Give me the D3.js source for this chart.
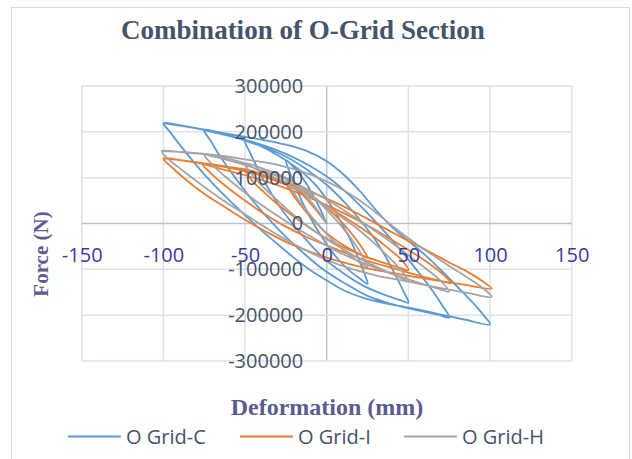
<!DOCTYPE html>
<html>
<head>
<meta charset="utf-8">
<script src="https://cdn.jsdelivr.net/npm/d3@7"></script>
<style>
  html, body { margin: 0; padding: 0; background: #fff; }
</style>
</head>
<body>
<div id="chart"></div>
<script>
// ---------- data (deformation mm, force N) ----------
const seriesNames = ["O Grid-C", "O Grid-I", "O Grid-H"];
const seriesColors = ["#5b9bd5", "#ed7d31", "#a5a5a5"];
const xTicks = [-150, -100, -50, 0, 50, 100, 150];
const yTicks = [-300000, -200000, -100000, 0, 100000, 200000, 300000];

// O Grid-C : cycles at 25, 50, 75, 100 mm
const gridC = [
  [0, 0], [-8, 60000], [-16, 105000],
  [-25, 138000], [-23, 115000], [-19, 80000], [-14, 40000], [-8, 0], [-1, -40000], [7, -78000], [15, -106000], [21, -122000],
  [25, -132000], [23, -108000], [19, -72000], [14, -32000], [8, 8000], [1, 48000], [-7, 85000], [-15, 112000], [-21, 128000],
  [-25, 138000], [-33, 155000], [-41, 170000],
  [-50, 181000], [-47, 155000], [-42, 118000], [-36, 78000], [-29, 38000], [-21, 0], [-12, -38000], [-2, -75000], [10, -108000], [22, -135000], [35, -155000], [45, -167000],
  [50, -173000], [47, -148000], [42, -112000], [36, -72000], [29, -32000], [21, 5000], [12, 42000], [2, 78000], [-10, 112000], [-22, 140000], [-35, 162000], [-45, 175000],
  [-50, 181000], [-58, 190000], [-66, 198000],
  [-75, 204000], [-71, 180000], [-65, 145000], [-57, 105000], [-48, 62000], [-38, 20000], [-27, -22000], [-15, -62000], [-3, -98000], [10, -128000], [25, -158000], [40, -176000], [55, -189000], [68, -199000],
  [75, -205000], [71, -180000], [65, -148000], [57, -110000], [48, -70000], [38, -28000], [27, 15000], [15, 58000], [3, 95000], [-10, 125000], [-25, 152000], [-40, 172000], [-55, 187000], [-68, 198000],
  [-75, 204000], [-83, 210000], [-91, 215000],
  [-100, 219000], [-96, 200000], [-90, 172000], [-80, 128000], [-70, 88000], [-60, 52000], [-50, 18000], [-40, -15000], [-30, -45000], [-20, -75000], [-10, -102000], [0, -124000], [10, -145000], [25, -165000], [40, -177000], [55, -187000], [70, -199000], [85, -210000],
  [100, -220000], [96, -200000], [90, -175000], [80, -138000], [70, -102000], [60, -68000], [50, -38000], [40, -8000], [30, 30000], [20, 72000], [10, 108000], [0, 136000], [-12, 158000], [-25, 172000], [-40, 183000], [-55, 192000], [-70, 202000], [-85, 211000],
  [-100, 219000]
];

// O Grid-I
const gridI = [
  [0, 0], [-9, 40000], [-17, 70000],
  [-25, 90000], [-22, 70000], [-17, 45000], [-10, 15000], [-2, -15000], [7, -40000], [15, -57000], [21, -68000],
  [25, -75000], [22, -55000], [17, -30000], [10, 0], [2, 28000], [-7, 55000], [-15, 72000], [-21, 83000],
  [-25, 90000], [-37, 104000],
  [-50, 118000], [-46, 95000], [-39, 70000], [-30, 42000], [-19, 12000], [-6, -20000], [8, -48000], [22, -70000], [35, -86000], [45, -97000],
  [50, -102000], [46, -80000], [39, -58000], [30, -32000], [19, -5000], [6, 25000], [-8, 55000], [-22, 80000], [-35, 98000], [-45, 111000],
  [-50, 118000], [-63, 125000],
  [-76, 130000], [-71, 110000], [-63, 85000], [-52, 55000], [-40, 25000], [-27, -3000], [-12, -30000], [5, -55000], [22, -78000], [40, -97000], [57, -114000], [70, -125000],
  [76, -130000], [71, -110000], [63, -88000], [52, -62000], [40, -36000], [27, -8000], [12, 20000], [-5, 48000], [-22, 73000], [-40, 95000], [-57, 112000], [-70, 124000],
  [-76, 130000], [-88, 137000],
  [-100, 142000], [-94, 120000], [-86, 95000], [-75, 65000], [-62, 35000], [-50, 8000], [-37, -18000], [-25, -40000], [-10, -62000], [5, -80000], [25, -98000], [45, -111000], [65, -123000], [85, -134000],
  [101, -142000], [95, -125000], [86, -105000], [75, -85000], [62, -60000], [50, -38000], [38, -15000], [25, 10000], [10, 38000], [-5, 62000], [-21, 85000], [-38, 103000], [-55, 118000], [-72, 129000], [-87, 137000],
  [-100, 142000]
];

// O Grid-H
const gridH = [
  [0, 0], [-9, 45000], [-17, 78000],
  [-25, 100000], [-22, 78000], [-17, 50000], [-10, 18000], [-2, -15000], [7, -48000], [15, -72000], [21, -87000],
  [25, -95000], [22, -72000], [17, -43000], [10, -10000], [2, 22000], [-7, 55000], [-15, 78000], [-21, 92000],
  [-25, 100000], [-37, 117000],
  [-50, 131000], [-46, 108000], [-39, 80000], [-30, 50000], [-19, 15000], [-6, -20000], [8, -52000], [22, -80000], [35, -102000], [45, -118000],
  [50, -127000], [46, -104000], [39, -77000], [30, -46000], [19, -12000], [6, 22000], [-8, 55000], [-22, 83000], [-35, 105000], [-45, 122000],
  [-50, 131000], [-63, 143000],
  [-75, 151000], [-70, 128000], [-62, 102000], [-51, 70000], [-39, 38000], [-25, 5000], [-10, -28000], [5, -58000], [22, -86000], [40, -110000], [57, -130000], [69, -143000],
  [75, -149000], [70, -126000], [62, -102000], [51, -72000], [39, -40000], [25, -5000], [10, 30000], [-5, 62000], [-22, 92000], [-40, 116000], [-57, 135000], [-69, 146000],
  [-75, 151000], [-88, 155000],
  [-101, 158000], [-96, 138000], [-88, 115000], [-77, 85000], [-64, 52000], [-50, 20000], [-36, -12000], [-21, -43000], [-6, -70000], [10, -93000], [30, -113000], [50, -127000], [70, -141000], [87, -152000],
  [101, -160000], [96, -142000], [88, -122000], [76, -95000], [62, -62000], [50, -32000], [40, -5000], [28, 30000], [14, 65000], [0, 92000], [-15, 113000], [-30, 128000], [-50, 140000], [-70, 150000], [-88, 156000],
  [-101, 158000]
];

const allSeries = [gridC, gridI, gridH];

// ---------- layout ----------
const width = 632, height = 459;
const plotLeft = 81.7, plotRight = 571.7, plotTop = 86, plotBottom = 361;

const svg = d3.select("#chart").append("svg")
  .attr("width", width)
  .attr("height", height)
  .style("display", "block")
  .style("background", "#fff");

// chart frame
svg.append("rect")
  .attr("x", 11.5).attr("y", 7.5)
  .attr("width", 618).attr("height", 470)
  .attr("fill", "none")
  .attr("stroke", "#d9d9d9")
  .attr("stroke-width", 1);

const x = d3.scaleLinear().domain([-150, 150]).range([plotLeft, plotRight]);
const y = d3.scaleLinear().domain([-300000, 300000]).range([plotBottom, plotTop]);

// gridlines
svg.append("g").selectAll("line")
  .data(xTicks).enter().append("line")
  .attr("x1", d => x(d)).attr("x2", d => x(d))
  .attr("y1", plotTop).attr("y2", plotBottom)
  .attr("stroke", d => d === 0 ? "#b9c1d2" : "#dde1ea")
  .attr("stroke-width", 1.5);

svg.append("g").selectAll("line")
  .data(yTicks).enter().append("line")
  .attr("x1", plotLeft).attr("x2", plotRight)
  .attr("y1", d => y(d)).attr("y2", d => y(d))
  .attr("stroke", d => d === 0 ? "#b9c1d2" : "#dde1ea")
  .attr("stroke-width", 1.5);

// series
const line = d3.line()
  .x(d => x(d[0]))
  .y(d => y(d[1]))
  .curve(d3.curveCatmullRom.alpha(0.5));

svg.append("g").selectAll("path")
  .data(allSeries).enter().append("path")
  .attr("d", d => line(d))
  .attr("fill", "none")
  .attr("stroke", (d, i) => seriesColors[i])
  .attr("stroke-width", 1.8)
  .attr("stroke-linejoin", "round");

// axes (labels only, crossing at 0)
const xAxis = d3.axisBottom(x).tickValues(xTicks).tickSize(0).tickPadding(24).tickFormat(d => String(d));
const gx = svg.append("g")
  .attr("transform", `translate(0,${y(0)})`)
  .call(xAxis);
gx.select(".domain").remove();
gx.selectAll("text")
  .attr("fill", "#3c3a9c")
  .style("font-family", "'Open Sans', sans-serif")
  .style("font-size", "20px");

const yAxis = d3.axisLeft(y).tickValues(yTicks).tickSize(0).tickPadding(23.5).tickFormat(d => String(d));
const gy = svg.append("g")
  .attr("transform", `translate(${x(0)},0)`)
  .call(yAxis);
gy.select(".domain").remove();
gy.selectAll("text")
  .attr("fill", "#44546a")
  .style("font-family", "'Open Sans', sans-serif")
  .style("font-size", "20px");

// titles
svg.append("text")
  .attr("x", 303).attr("y", 39)
  .attr("text-anchor", "middle")
  .attr("fill", "#44546a")
  .style("font-family", "'Liberation Serif', serif")
  .style("font-weight", "bold")
  .style("font-size", "27px")
  .text("Combination of O-Grid Section");

svg.append("text")
  .attr("x", 327).attr("y", 415)
  .attr("text-anchor", "middle")
  .attr("fill", "#5c5c90")
  .style("font-family", "'Liberation Serif', serif")
  .style("font-weight", "bold")
  .style("font-size", "24px")
  .text("Deformation (mm)");

svg.append("text")
  .attr("transform", "translate(48,254) rotate(-90)")
  .attr("text-anchor", "middle")
  .attr("fill", "#5c5c90")
  .style("font-family", "'Liberation Serif', serif")
  .style("font-weight", "bold")
  .style("font-size", "21px")
  .text("Force (N)");

// legend
const legendX = [68, 240, 404];
const legend = svg.append("g").attr("id", "legend");
legend.selectAll("line")
  .data(seriesNames).enter().append("line")
  .attr("x1", (d, i) => legendX[i]).attr("x2", (d, i) => legendX[i] + 53)
  .attr("y1", 436.5).attr("y2", 436.5)
  .attr("stroke", (d, i) => seriesColors[i])
  .attr("stroke-width", 2);
legend.selectAll("text")
  .data(seriesNames).enter().append("text")
  .attr("x", (d, i) => legendX[i] + 58)
  .attr("y", 443.5)
  .attr("fill", "#44546a")
  .style("font-family", "'Open Sans', sans-serif")
  .style("font-size", "20px")
  .text(d => d);
</script>
</body>
</html>
